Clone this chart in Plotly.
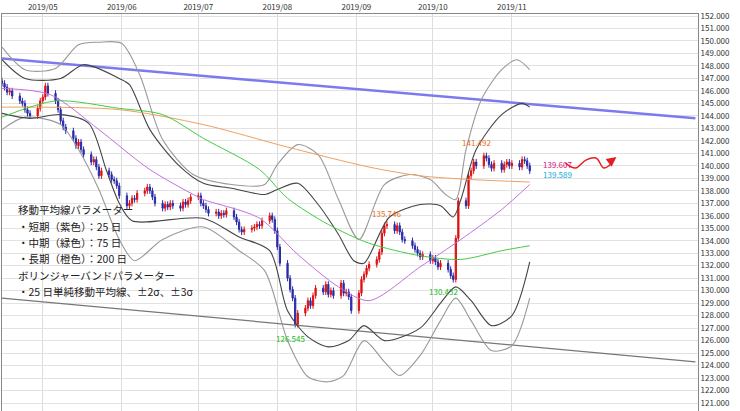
import pandas as pd
import plotly.graph_objects as go

# daily closes, business days 2019-04-15 .. 2019-11-08
closes = [
    146.6, 146.3, 145.9, 146.0, 145.6, 145.2, 145.0, 144.5, 144.2, 144.0, 144.6, 145.2,
    145.5, 146.4, 145.8, 145.2, 144.5, 143.6, 143.1, 142.8, 142.2, 141.6, 141.9, 141.3,
    140.9, 140.3, 140.5, 139.9, 139.2, 139.6, 139.3, 138.9, 138.8, 138.4, 137.6,
    136.8, 137.0, 137.4, 137.3, 137.8, 138.0, 138.3, 138.0, 137.5, 137.0, 136.6, 136.9,
    136.7, 137.0, 136.8, 136.6, 137.1, 136.9, 137.2, 137.5,
    137.6, 137.0, 136.8, 136.5, 136.2, 136.3, 136.0, 136.2, 136.1, 136.4, 135.9, 135.5,
    134.9, 134.7, 134.9, 135.0, 135.1, 135.3, 135.2, 135.6, 136.0, 135.7, 134.8,
    133.5, 132.2, 131.0, 130.1, 129.4, 127.3, 128.2, 128.6, 129.2, 128.8, 129.6, 130.2,
    129.9, 130.5, 129.7, 130.0, 129.6, 130.6, 129.8, 129.9, 129.5, 128.4,
    129.8, 130.9, 131.3, 131.8, 132.1, 132.5, 133.1, 134.6, 135.2, 135.3, 134.8, 135.2,
    134.7, 134.1, 134.0, 133.6, 133.3, 133.0, 132.7, 132.9, 132.4,
    132.6, 132.3, 131.9, 132.2, 131.7, 131.2, 130.9, 134.2, 137.2, 136.8, 139.2, 139.6,
    140.3, 140.0, 140.8, 140.6, 140.1, 139.8, 140.2, 139.7, 140.1, 140.3, 140.0,
    140.2, 139.9, 140.5, 140.4, 140.0, 139.6,
]
dates = pd.bdate_range('2019-04-15', '2019-11-08')
opens = [146.8] + closes[:-1]
highs = [max(o, c) + 0.25 for o, c in zip(opens, closes)]
lows = [min(o, c) - 0.25 for o, c in zip(opens, closes)]

ma_dates = ['2019-04-15', '2019-05-04', '2019-05-23', '2019-06-12', '2019-07-03', '2019-07-06',
            '2019-07-25', '2019-08-09', '2019-08-25', '2019-09-06', '2019-09-26', '2019-10-12',
            '2019-10-28', '2019-11-08']
ma25 = [146.2, 145.7, 142.9, 139.7, 137.3, 137.1, 135.8, 132.9, 130.3, 129.2, 131.9, 134.1, 136.5, 138.5]
ma75_dates = ['2019-04-15', '2019-05-06', '2019-05-31', '2019-06-17', '2019-07-03', '2019-07-25',
              '2019-08-05', '2019-08-21', '2019-09-06', '2019-09-26', '2019-10-12', '2019-10-28', '2019-11-08']
ma75 = [143.9, 145.2, 144.6, 144.1, 142.2, 139.7, 137.4, 135.3, 133.8, 132.8, 132.5, 133.2, 133.6]
ma200_dates = ['2019-04-15', '2019-05-31', '2019-07-03', '2019-08-05', '2019-09-06', '2019-09-26',
               '2019-10-16', '2019-11-08']
ma200 = [144.7, 144.5, 143.3, 141.5, 139.9, 139.2, 138.9, 138.7]

up2_dates = ['2019-04-15', '2019-04-24', '2019-05-08', '2019-05-17', '2019-05-31', '2019-06-04',
             '2019-06-12', '2019-06-23', '2019-07-03', '2019-07-14', '2019-07-27', '2019-08-01',
             '2019-08-09', '2019-08-17', '2019-08-25', '2019-08-31', '2019-09-04', '2019-09-14',
             '2019-09-26', '2019-10-04', '2019-10-09', '2019-10-12', '2019-10-18', '2019-10-28',
             '2019-11-05', '2019-11-08']
up2 = [148.5, 147.0, 147.0, 148.1, 147.0, 146.5, 142.9, 140.1, 138.6, 138.2, 137.7, 138.1,
       138.6, 136.9, 134.5, 132.4, 132.2, 135.9, 136.9, 136.8, 135.9, 137.3, 141.3, 144.1, 145.0, 144.7]
lo2_dates = ['2019-04-15', '2019-04-26', '2019-05-08', '2019-05-19', '2019-05-26', '2019-05-31',
             '2019-06-05', '2019-07-03', '2019-07-17', '2019-07-29', '2019-08-05', '2019-08-13',
             '2019-08-21', '2019-08-29', '2019-09-04', '2019-09-12', '2019-09-26', '2019-10-04',
             '2019-10-10', '2019-10-16', '2019-10-24', '2019-11-01', '2019-11-08']
lo2 = [144.2, 143.8, 144.1, 143.4, 139.6, 137.0, 135.6, 135.8, 134.3, 133.2, 128.4, 126.3,
       125.5, 126.0, 127.2, 126.0, 127.0, 129.0, 130.3, 129.2, 127.2, 128.0, 132.3]
up3_dates = ['2019-04-15', '2019-04-24', '2019-05-06', '2019-05-15', '2019-05-23', '2019-06-01',
             '2019-06-08', '2019-06-17', '2019-06-29', '2019-07-14', '2019-07-27', '2019-08-01',
             '2019-08-09', '2019-08-17', '2019-08-25', '2019-09-02', '2019-09-12', '2019-09-22',
             '2019-09-30', '2019-10-06', '2019-10-10', '2019-10-14', '2019-10-20', '2019-10-28',
             '2019-11-03', '2019-11-08']
up3 = [149.5, 147.7, 147.8, 149.7, 149.9, 149.8, 147.3, 142.1, 139.3, 138.5, 138.5, 140.1,
       141.7, 140.9, 137.3, 134.1, 138.5, 139.3, 138.9, 137.7, 137.3, 141.3, 145.3, 147.7, 148.5, 147.7]
lo3_dates = ['2019-04-15', '2019-04-24', '2019-05-08', '2019-05-15', '2019-05-23', '2019-05-31',
             '2019-06-06', '2019-06-17', '2019-07-03', '2019-07-17', '2019-07-27', '2019-08-05',
             '2019-08-13', '2019-08-21', '2019-08-27', '2019-09-04', '2019-09-12', '2019-09-18',
             '2019-09-26', '2019-10-04', '2019-10-10', '2019-10-16', '2019-10-24', '2019-11-01',
             '2019-11-08']
lo3 = [142.9, 143.9, 143.3, 141.3, 138.1, 134.1, 132.4, 134.1, 135.1, 133.2, 131.6, 126.0,
       123.1, 122.7, 123.2, 126.0, 124.3, 123.2, 124.8, 127.6, 129.4, 127.6, 125.2, 125.6, 129.4]

trend_dates = ['2019-04-15', '2020-01-12']
trend_upper = [148.6, 143.8]
trend_lower = [129.4, 124.3]

wave_dates = ['2019-11-22', '2019-11-26', '2019-11-30', '2019-12-04', '2019-12-07', '2019-12-09', '2019-12-11']
wave_y = [140.22, 139.82, 140.46, 140.62, 139.82, 140.0, 140.5]

labels = [('2019-10-18', 141.9, '141.492', '#e8701a'),
          ('2019-09-13', 136.2, '135.746', '#e8701a'),
          ('2019-10-05', 129.9, '130.432', '#22bb22'),
          ('2019-08-06', 126.2, '126.545', '#22bb22')]
notes = ['移動平均線パラメーター', '・短期（紫色）：25 日', '・中期（緑色）：75 日',
         '・長期（橙色）：200 日', 'ボリンジャーバンドパラメーター', '・25 日単純移動平均線、±2σ、±3σ']

fig = go.Figure()
fig.add_trace(go.Scatter(x=trend_dates, y=trend_upper, mode='lines', line=dict(color='#7b7bef', width=2.5)))
fig.add_trace(go.Scatter(x=trend_dates, y=trend_lower, mode='lines', line=dict(color='#777777', width=1.2)))
for d, v, c, w in [(up3_dates, up3, '#999999', 1.1), (lo3_dates, lo3, '#999999', 1.1),
                   (up2_dates, up2, '#444444', 1.1), (lo2_dates, lo2, '#444444', 1.1),
                   (ma200_dates, ma200, '#f0a060', 1), (ma75_dates, ma75, '#44cc44', 1),
                   (ma_dates, ma25, '#c070e0', 1)]:
    fig.add_trace(go.Scatter(x=d, y=v, mode='lines', line=dict(color=c, width=w, shape='spline', smoothing=0.8)))
fig.add_trace(go.Candlestick(x=dates, open=opens, high=highs, low=lows, close=closes,
                             increasing=dict(line=dict(color='#dd1111', width=1), fillcolor='#dd1111'),
                             decreasing=dict(line=dict(color='#2a2aa8', width=1), fillcolor='#2a2aa8'),
                             whiskerwidth=0))
fig.add_trace(go.Scatter(x=wave_dates, y=wave_y, mode='lines', line=dict(color='#e02020', width=1.5, shape='spline')))
fig.add_annotation(x='2019-12-12', y=140.7, ax=-8, ay=6, showarrow=True, arrowhead=2, arrowsize=1.3,
                   arrowwidth=1.5, arrowcolor='#e02020', text='')

for d, v, t, c in labels:
    fig.add_annotation(x=d, y=v, text=t, showarrow=False, font=dict(size=8, color=c))
fig.add_annotation(x='2019-11-19', y=140.1, text='139.607', showarrow=False, borderpad=0,
                   font=dict(size=8, color='#dd1177'))
fig.add_annotation(x='2019-11-19', y=139.3, text='139.589', showarrow=False, borderpad=0,
                   font=dict(size=8, color='#11aadd'))
for i, t in enumerate(notes):
    fig.add_annotation(xref='paper', yref='paper', x=0.022, y=0.485 - i * 0.041, xanchor='left',
                       yanchor='bottom', text=t, showarrow=False, borderpad=0,
                       font=dict(size=10.5, color='#222222'))

fig.update_layout(
    width=740, height=411, margin=dict(l=2, r=42, t=14, b=0),
    plot_bgcolor='white', paper_bgcolor='white', showlegend=False,
    font=dict(family='Noto Sans CJK JP'),
    xaxis=dict(type='date', range=['2019-04-15', '2020-01-13'], side='top', rangeslider=dict(visible=False),
               automargin=False,
               tickvals=['2019-05-01', '2019-06-01', '2019-07-01', '2019-08-01', '2019-09-01', '2019-10-01', '2019-11-01'],
               ticktext=['2019/05', '2019/06', '2019/07', '2019/08', '2019/09', '2019/10', '2019/11'],
               tickfont=dict(size=8, color='#333'), showgrid=True, gridcolor='#dddddd',
               showline=True, linecolor='#888', mirror=True, ticklen=0),
    yaxis=dict(side='right', range=[120.36, 152.16], dtick=1, tickformat='.3f', automargin=False,
               tickfont=dict(size=8, color='#333'), showgrid=True, gridcolor='#e2e2e2',
               showline=True, linecolor='#888', mirror=True, ticks=''),
)
fig.write_html("out.html", config={'displayModeBar': False},
               post_script="document.body.style.margin='0';")
